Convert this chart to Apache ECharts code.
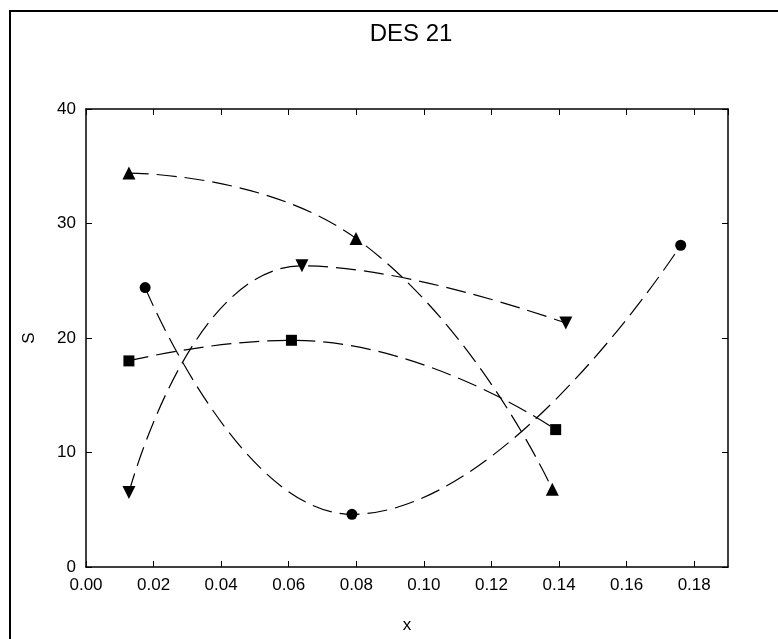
<!DOCTYPE html>
<html>
<head>
<meta charset="utf-8">
<script src="https://cdn.jsdelivr.net/npm/echarts@6/dist/echarts.min.js"></script>
<style>
  html, body { margin: 0; padding: 0; background: #fff; }
  #chart { width: 778px; height: 639px; }
</style>
</head>
<body>
<div id="chart"></div>
<script>
// Measured S against x for four sample groups
const circleData   = [[0.0175, 24.4], [0.0787, 4.6], [0.176, 28.1]];
const squareData   = [[0.0127, 18.0], [0.0608, 19.8], [0.139, 12.0]];
const triUpData    = [[0.0127, 34.4], [0.0799, 28.7], [0.138, 6.8]];
const triDownData  = [[0.0127, 6.5], [0.0639, 26.3], [0.142, 21.3]];

const xTickLabels = ['0.00', '0.02', '0.04', '0.06', '0.08', '0.10', '0.12', '0.14', '0.16', '0.18'];
const yTickLabels = ['0', '10', '20', '30', '40'];

const FONT = 'Liberation Sans, Arial, sans-serif';
const dash = [20, 8];

function curve(data, symbol, size, rotate) {
  return {
    type: 'line',
    data: data,
    smooth: 0.5,
    symbol: symbol,
    symbolSize: size,
    symbolRotate: rotate || 0,
    showAllSymbol: true,
    itemStyle: { color: '#000' },
    lineStyle: { color: '#000', width: 1.2, type: dash },
    emphasis: { disabled: true },
    z: 3
  };
}

const chart = echarts.init(document.getElementById('chart'), null, { renderer: 'canvas' });

function axisLine() {
  return { show: true, onZero: false, lineStyle: { color: '#000', width: 1.5 } };
}
function axisTick() {
  return { show: true, inside: true, length: 6, lineStyle: { color: '#000', width: 1 } };
}

chart.setOption({
  animation: false,
  backgroundColor: '#fff',
  title: {
    text: 'DES 21',
    left: 406,
    textAlign: 'center',
    top: 17,
    textStyle: { fontFamily: FONT, fontSize: 24, fontWeight: 'normal', color: '#000' }
  },
  graphic: [{
    type: 'rect',
    shape: { x: 10, y: 11, width: 800, height: 700 },
    style: { fill: 'none', stroke: '#000', lineWidth: 2 },
    silent: true
  }],
  grid: { left: 86, top: 109, right: 50, bottom: 71, containLabel: false },
  xAxis: [{
    type: 'value',
    min: 0, max: 0.19, interval: 0.02,
    position: 'bottom',
    name: 'x',
    nameLocation: 'middle',
    nameGap: 50,
    nameTextStyle: { fontFamily: FONT, fontSize: 17, color: '#000' },
    axisLine: axisLine(),
    axisTick: axisTick(),
    splitLine: { show: false },
    axisLabel: {
      fontFamily: FONT, fontSize: 17, color: '#000', margin: 10,
      showMaxLabel: false,
      formatter: function (v) {
        const i = Math.round(v / 0.02);
        return Math.abs(v - i * 0.02) < 1e-9 ? (xTickLabels[i] || '') : '';
      }
    }
  }, {
    type: 'value',
    min: 0, max: 0.19, interval: 0.02,
    position: 'top',
    axisLine: axisLine(),
    axisTick: axisTick(),
    axisLabel: { show: false },
    splitLine: { show: false }
  }],
  yAxis: [{
    type: 'value',
    min: 0, max: 40, interval: 10,
    position: 'left',
    name: 'S',
    nameLocation: 'middle',
    nameGap: 48,
    nameTextStyle: { fontFamily: FONT, fontSize: 17, color: '#000' },
    axisLine: axisLine(),
    axisTick: axisTick(),
    splitLine: { show: false },
    axisLabel: {
      fontFamily: FONT, fontSize: 17, color: '#000', margin: 10,
      formatter: function (v) { return yTickLabels[Math.round(v / 10)] || ''; }
    }
  }, {
    type: 'value',
    min: 0, max: 40, interval: 10,
    position: 'right',
    axisLine: axisLine(),
    axisTick: axisTick(),
    axisLabel: { show: false },
    splitLine: { show: false }
  }],
  series: [
    curve(triUpData, 'triangle', 13),
    curve(triDownData, 'triangle', 13, 180),
    curve(squareData, 'rect', 11),
    curve(circleData, 'circle', 11)
  ]
});
</script>
</body>
</html>
